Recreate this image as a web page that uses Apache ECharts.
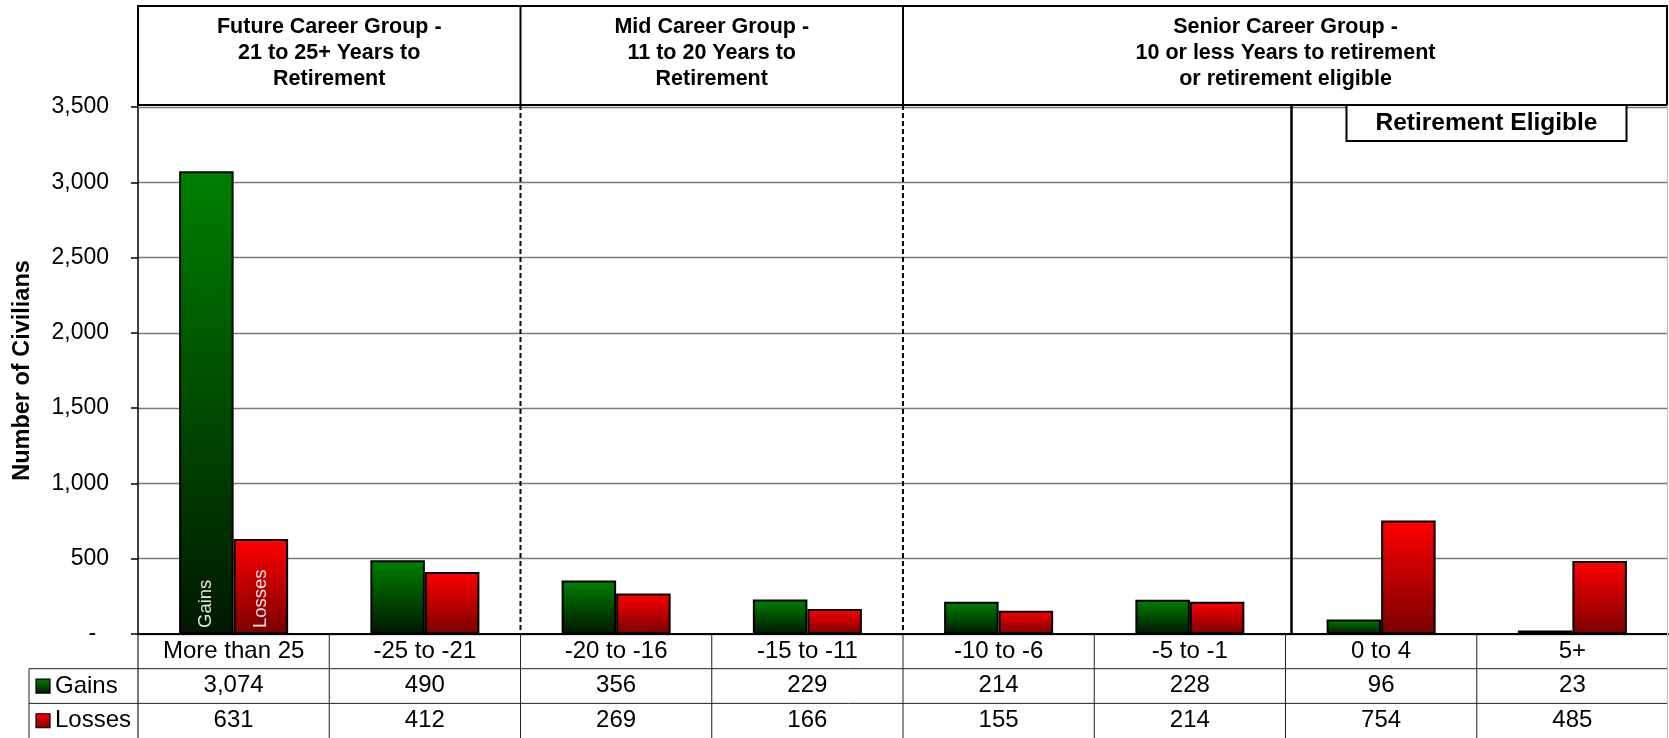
<!DOCTYPE html>
<html>
<head>
<meta charset="utf-8">
<script src="https://cdn.jsdelivr.net/npm/echarts@6/dist/echarts.min.js"></script>
<style>
  html, body { margin: 0; padding: 0; background: #ffffff; }
  #chart { width: 1669px; height: 738px; }
</style>
</head>
<body>
<div id="chart"></div>
<script>
// Years-to-retirement bands and the civilian gains / losses in each
const categories = ['More than 25', '-25 to -21', '-20 to -16', '-15 to -11', '-10 to -6', '-5 to -1', '0 to 4', '5+'];
const gains  = [3074, 490, 356, 229, 214, 228, 96, 23];
const losses = [631, 412, 269, 166, 155, 214, 754, 485];

// Career groups shown in the header band: [first category, last category + 1, title lines]
const groupStarts = [0, 2, 4];
const groupEnds   = [2, 4, 8];
const groupTitles = [
  ['Future Career Group -', '21 to 25+ Years to', 'Retirement'],
  ['Mid Career Group -', '11 to 20 Years to', 'Retirement'],
  ['Senior Career Group -', '10 or less Years to retirement', 'or retirement eligible']
];
const eligibleStart = 6;
const eligibleTitle = 'Retirement Eligible';

const yMin = 0, yMax = 3500, yStep = 500;
const seriesNames = ['Gains', 'Losses'];

const FONT = '"Liberation Sans", Arial, Helvetica, sans-serif';
const W = 1669, H = 738;
const GRID = { left: 138, right: 1668, top: 107, bottom: 634 };
const HEADER_TOP = 6, HEADER_BOTTOM = 105;
const ROW_H = 34.7;
const TABLE_LEFT = 29;

const greenFill = new echarts.graphic.LinearGradient(0, 0, 0, 1, [
  { offset: 0, color: '#008000' }, { offset: 1, color: '#001800' }
]);
const redFill = new echarts.graphic.LinearGradient(0, 0, 0, 1, [
  { offset: 0, color: '#ff0000' }, { offset: 1, color: '#7a0000' }
]);

const chart = echarts.init(document.getElementById('chart'), null, { renderer: 'canvas' });

const fmt = v => v.toString().replace(/\B(?=(\d{3})+(?!\d))/g, ',');

function barData(values, name) {
  return values.map((v, i) => i === 0 ? {
    value: v,
    label: {
      show: true, formatter: name, position: 'insideBottom', rotate: 90,
      align: 'left', verticalAlign: 'middle', distance: 6,
      color: '#e6e6e6', fontSize: 18.5, fontFamily: FONT
    }
  } : v);
}

function tableAxis(offset, values) {
  return {
    type: 'category', data: categories, position: 'bottom', offset: offset,
    axisLine: { show: false }, axisTick: { show: false },
    axisLabel: {
      margin: 17, verticalAlign: 'middle', interval: 0,
      fontSize: 24, color: '#000', fontFamily: FONT,
      formatter: (val, idx) => values ? fmt(values[idx]) : val
    }
  };
}

const option = {
  backgroundColor: '#ffffff',
  animation: false,
  grid: { left: GRID.left, right: W - GRID.right, top: GRID.top, bottom: H - GRID.bottom, containLabel: false },
  xAxis: [
    Object.assign(tableAxis(0, null), {
      axisLine: { show: true, lineStyle: { color: '#000', width: 2 } }
    }),
    tableAxis(ROW_H, gains),
    tableAxis(ROW_H * 2, losses)
  ],
  yAxis: {
    type: 'value', min: yMin, max: yMax, interval: yStep,
    axisLine: { show: true, lineStyle: { color: '#000', width: 1.5 } },
    axisTick: { show: true, length: 7, inside: false, lineStyle: { color: '#000', width: 1.5 } },
    axisLabel: {
      margin: 29, fontSize: 23, color: '#000', fontFamily: FONT,
      formatter: v => v === 0 ? '-  ' : fmt(v)
    },
    splitLine: { show: true, lineStyle: { color: '#7a7a7a', width: 1.3 } }
  },
  series: [
    {
      name: seriesNames[0], type: 'bar', data: barData(gains, seriesNames[0]),
      barGap: '0%', barCategoryGap: '43%',
      itemStyle: { color: greenFill, borderColor: '#000', borderWidth: 2 }
    },
    {
      name: seriesNames[1], type: 'bar', data: barData(losses, seriesNames[1]),
      barGap: '0%', barCategoryGap: '43%',
      itemStyle: { color: redFill, borderColor: '#000', borderWidth: 2 }
    }
  ]
};
chart.setOption(option);

// Category boundaries taken from the x axis scale
const centers = categories.map((c, i) => chart.convertToPixel({ xAxisIndex: 0 }, i));
const band = centers.length > 1 ? centers[1] - centers[0] : (GRID.right - GRID.left);
const bounds = centers.map(c => c - band / 2).concat([centers[centers.length - 1] + band / 2]);

const g = [];
const line = (x1, y1, x2, y2, stroke, lw, dash, z) => g.push({
  type: 'line', z: z || 20, silent: true,
  shape: { x1, y1, x2, y2 },
  style: { stroke, lineWidth: lw, lineDash: dash || null }
});
const text = (x, y, str, size, weight, extra) => g.push(Object.assign({
  type: 'text', z: 30, silent: true, x, y,
  style: { text: str, fontSize: size, fontWeight: weight, fontFamily: FONT, fill: '#000',
           align: 'center', verticalAlign: 'middle' }
}, extra || {}));

// Header band with the career groups
g.push({ type: 'rect', z: 15, silent: true,
  shape: { x: GRID.left, y: HEADER_TOP, width: GRID.right - 1 - GRID.left, height: HEADER_BOTTOM - HEADER_TOP },
  style: { fill: '#fff', stroke: '#000', lineWidth: 2 } });
groupStarts.forEach((s, k) => {
  const x0 = bounds[s], x1 = bounds[groupEnds[k]];
  if (k > 0) {
    line(x0, HEADER_TOP, x0, HEADER_BOTTOM, '#000', 2);
    line(x0, HEADER_BOTTOM, x0, GRID.bottom, '#000', 2, [5, 3]);
  }
  const cx = (x0 + Math.min(x1, GRID.right)) / 2;
  groupTitles[k].forEach((t, j) => text(cx, 27 + j * 26, t, 21.5, 'bold'));
});

// Retirement-eligible divider and tag
const xe = bounds[eligibleStart] + 6;
line(xe, HEADER_BOTTOM, xe, GRID.bottom, '#000', 2.5);
g.push({ type: 'rect', z: 25, silent: true,
  shape: { x: xe + 55, y: HEADER_BOTTOM, width: 280, height: 36 },
  style: { fill: '#fff', stroke: '#000', lineWidth: 2 } });
text(xe + 195, HEADER_BOTTOM + 18, eligibleTitle, 24.5, 'bold');

// Axis title
text(23, (GRID.top + GRID.bottom) / 2, 'Number of Civilians', 23.5, 'bold', { rotation: Math.PI / 2 });

// Data table under the axis
const r1 = GRID.bottom + ROW_H, r2 = GRID.bottom + ROW_H * 2;
line(TABLE_LEFT, r1, GRID.right, r1, '#222', 1);
line(TABLE_LEFT, r2, GRID.right, r2, '#222', 1);
line(TABLE_LEFT, r1, TABLE_LEFT, H, '#222', 1);
line(GRID.left, GRID.bottom, GRID.left, H, '#222', 1.2);
for (let i = 1; i < categories.length; i++) line(bounds[i], GRID.bottom, bounds[i], H, '#222', 1);
line(GRID.right - 0.5, GRID.top - 2, GRID.right - 0.5, H, '#bdbdbd', 1);

// Legend keys in the table rows
[greenFill, redFill].forEach((fill, k) => {
  const cy = GRID.bottom + ROW_H * (k + 1.5);
  g.push({ type: 'rect', z: 25, silent: true,
    shape: { x: 36, y: cy - 7, width: 14, height: 14 },
    style: { fill, stroke: '#000', lineWidth: 1.2 } });
  text(55, cy, seriesNames[k], 24, 'normal', { style: {
    text: seriesNames[k], fontSize: 24, fontFamily: FONT, fill: '#000', align: 'left', verticalAlign: 'middle' } });
});

chart.setOption({ graphic: { elements: g } });
</script>
</body>
</html>
